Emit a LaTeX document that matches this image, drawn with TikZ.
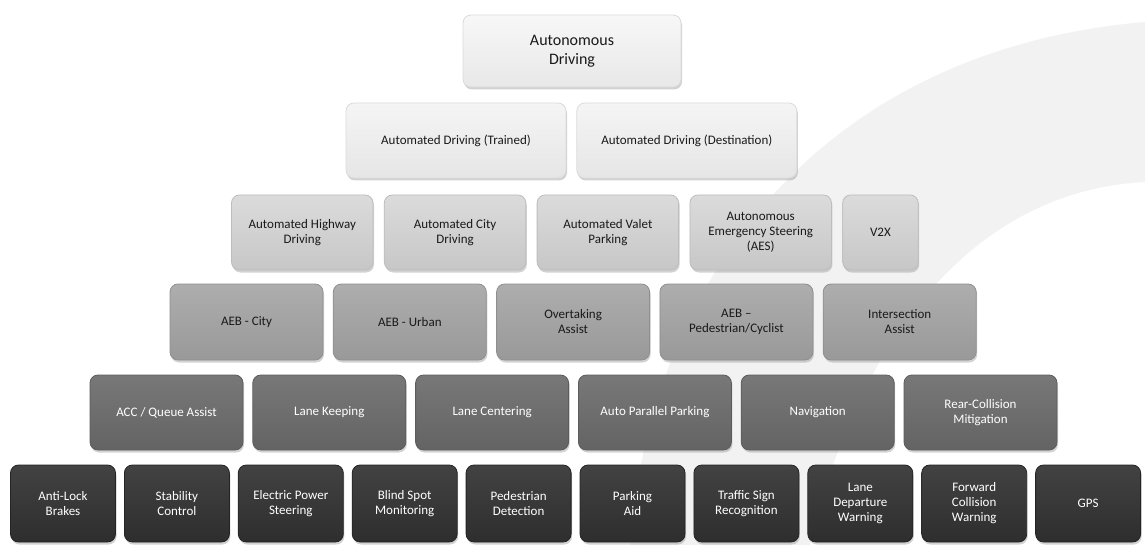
\documentclass[tikz,border=0pt]{standalone}
\usepackage{fontspec}
\setmainfont{Carlito}
\usepackage{tikz}
\usetikzlibrary{positioning,shadows}

\begin{document}
\begin{tikzpicture}[x=1pt,y=-1pt,
			box/.style={rounded corners=8pt,align=center,inner sep=2pt,
				font=\fontsize{13}{15}\selectfont,line width=0.8pt,
				drop shadow={shadow xshift=1pt,shadow yshift=-2.5pt,opacity=0.35}},
			lvl one/.style={box,draw=black!14,top color=black!3,bottom color=black!9,
				text=black!90,minimum width=218pt,minimum height=72pt,
				font=\fontsize{16}{19}\selectfont},
			lvl two/.style={box,draw=black!14,top color=black!4,bottom color=black!10,
				text=black!90,minimum width=220pt,minimum height=75pt},
			lvl three/.style={box,draw=black!26,top color=black!14,bottom color=black!22,
				text=black!90,minimum width=141.5pt,minimum height=75pt},
			lvl four/.style={box,draw=black!44,top color=black!32,bottom color=black!40,
				text=black!90,minimum width=153pt,minimum height=76pt},
			lvl five/.style={box,draw=black!64,top color=black!53,bottom color=black!61,
				text=white,minimum width=153pt,minimum height=75pt},
			lvl six/.style={box,draw=black!86,top color=black!74,bottom color=black!82,
				text=white,minimum width=105pt,minimum height=77pt}]
			
			\useasboundingbox (0,0) rectangle (1145,545);
			\fill[white] (0,0) rectangle (1145,545);
			\fill[black!5] (630,545) .. controls (650,280) and (820,50) .. (1145,22)
				-- (1145,182) .. controls (980,190) and (860,330) .. (810,545) -- cycle;
			
			\node[lvl one] (AD) at (572,51) {Autonomous\\Driving};
			
			\node[lvl two] (T) at (456,140.5) {Automated Driving (Trained)};
			\node[lvl two] (D) [right=10pt of T] {Automated Driving (Destination)};
			
			\node[lvl three] (HW) at (302.25,232.5) {Automated Highway\\Driving};
			\node[lvl three] (CD) [right=10.5pt of HW] {Automated City\\Driving};
			\node[lvl three] (VP) [right=10.5pt of CD] {Automated Valet\\Parking};
			\node[lvl three] (AES) [right=10.5pt of VP] {Autonomous\\Emergency Steering\\(AES)};
			\node[lvl three,minimum width=75.5pt] (VX) [right=10.5pt of AES] {V2X};
			
			\node[lvl four] (AC) at (246.5,322) {AEB - City};
			\node[lvl four] (AU) [right=9.5pt of AC] {AEB - Urban};
			\node[lvl four] (OA) [right=9.5pt of AU] {Overtaking\\Assist};
			\node[lvl four] (AP) [right=9.5pt of OA] {AEB --\\Pedestrian/Cyclist};
			\node[lvl four] (IA) [right=9.5pt of AP] {Intersection\\Assist};
			
			\node[lvl five] (ACC) at (166.5,412.5) {ACC / Queue Assist};
			\node[lvl five] (LK) [right=9pt of ACC] {Lane Keeping};
			\node[lvl five] (LC) [right=9pt of LK] {Lane Centering};
			\node[lvl five] (PP) [right=9pt of LC] {Auto Parallel Parking};
			\node[lvl five] (NV) [right=9pt of PP] {Navigation};
			\node[lvl five] (RC) [right=9pt of NV] {Rear-Collision\\Mitigation};
			
			\node[lvl six] (AL) at (63,503.5) {Anti-Lock\\Brakes};
			\node[lvl six] (SC) [right=8.1pt of AL] {Stability\\Control};
			\node[lvl six] (EP) [right=8.1pt of SC] {Electric Power\\Steering};
			\node[lvl six] (BS) [right=8.1pt of EP] {Blind Spot\\Monitoring};
			\node[lvl six] (PD) [right=8.1pt of BS] {Pedestrian\\Detection};
			\node[lvl six] (PA) [right=8.1pt of PD] {Parking\\Aid};
			\node[lvl six] (TS) [right=8.1pt of PA] {Traffic Sign\\Recognition};
			\node[lvl six] (LD) [right=8.1pt of TS] {Lane\\Departure\\Warning};
			\node[lvl six] (FC) [right=8.1pt of LD] {Forward\\Collision\\Warning};
			\node[lvl six] (GPS) [right=8.1pt of FC] {GPS};
		\end{tikzpicture}
\end{document}
